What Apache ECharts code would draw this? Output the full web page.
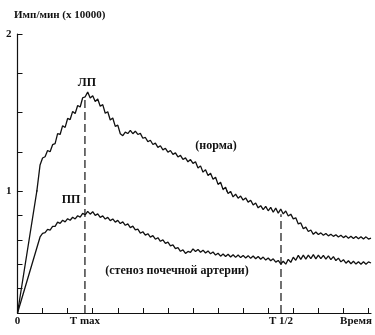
<!DOCTYPE html>
<html>
<head>
<meta charset="utf-8">
<script src="https://cdn.jsdelivr.net/npm/echarts@6/dist/echarts.min.js"></script>
<style>
html, body { margin: 0; padding: 0; background: #fff; }
#chart { width: 375px; height: 335px; }
</style>
</head>
<body>
<div id="chart"></div>
<script>
// Sample times (arbitrary time units along the x axis)
const times = [
  0, 0.9,
  1.0, 1.1, 1.2, 1.3, 1.4, 1.5, 1.6, 1.7, 1.8, 1.9,
  2.0, 2.1, 2.2, 2.3, 2.4, 2.5, 2.6, 2.7, 2.8, 2.9,
  3.0, 3.1, 3.2, 3.3, 3.4, 3.5, 3.6, 3.7, 3.8, 3.9,
  4.0, 4.1, 4.2, 4.3, 4.4, 4.5, 4.6, 4.7, 4.8, 4.9,
  5.0, 5.1, 5.2, 5.3, 5.4, 5.5, 5.6, 5.7, 5.8, 5.9,
  6.0, 6.1, 6.2, 6.3, 6.4, 6.5, 6.6, 6.7, 6.8, 6.9,
  7.0, 7.1, 7.2, 7.3, 7.4, 7.5, 7.6, 7.7, 7.8, 7.9,
  8.0, 8.1, 8.2, 8.3, 8.4, 8.5, 8.6, 8.7, 8.8, 8.9,
  9.0, 9.1, 9.2, 9.3, 9.4, 9.5, 9.6, 9.7, 9.8, 9.9,
  10.0, 10.1, 10.2, 10.3, 10.4, 10.5, 10.6, 10.7, 10.8, 10.9,
  11.0, 11.1, 11.2, 11.3, 11.4, 11.5, 11.6, 11.7, 11.8, 11.9,
  12.0, 12.1, 12.2, 12.3, 12.4, 12.5, 12.6, 12.7, 12.8, 12.9,
  13.0, 13.1, 13.2, 13.3, 13.4, 13.5, 13.6, 13.7, 13.8, 13.9,
  14.0, 14.1
];

// Count rate, imp/min x 10000 — normal kidney
const norma = [
  0, 1.166,
  1.21, 1.218, 1.258, 1.25, 1.295, 1.302, 1.366, 1.36, 1.416, 1.405,
  1.462, 1.455, 1.507, 1.494, 1.545, 1.535, 1.594, 1.6, 1.63, 1.592,
  1.607, 1.57, 1.586, 1.54, 1.55, 1.495, 1.505, 1.452, 1.465, 1.412,
  1.42, 1.365, 1.352, 1.375, 1.366, 1.386, 1.365, 1.381, 1.36, 1.367,
  1.336, 1.341, 1.314, 1.323, 1.296, 1.305, 1.278, 1.288, 1.262, 1.272,
  1.247, 1.258, 1.233, 1.243, 1.217, 1.227, 1.201, 1.211, 1.186, 1.2,
  1.176, 1.186, 1.146, 1.16, 1.12, 1.136, 1.098, 1.113, 1.075, 1.088,
  1.042, 1.056, 1.01, 1.024, 0.98, 0.996, 0.952, 0.974, 0.941, 0.958,
  0.926, 0.943, 0.909, 0.924, 0.886, 0.902, 0.862, 0.88, 0.848, 0.874,
  0.838, 0.866, 0.826, 0.86, 0.818, 0.852, 0.812, 0.836, 0.795, 0.81,
  0.772, 0.78, 0.73, 0.738, 0.69, 0.704, 0.668, 0.68, 0.645, 0.664,
  0.643, 0.657, 0.637, 0.652, 0.632, 0.646, 0.628, 0.642, 0.623, 0.637,
  0.618, 0.632, 0.613, 0.629, 0.611, 0.627, 0.609, 0.625, 0.607, 0.624,
  0.606, 0.614
];

// Count rate — renal artery stenosis
const stenosis = [
  0, 0.623,
  0.652, 0.658, 0.685, 0.68, 0.71, 0.71, 0.745, 0.735, 0.76, 0.747,
  0.773, 0.76, 0.785, 0.771, 0.797, 0.786, 0.816, 0.805, 0.833, 0.81,
  0.83, 0.8, 0.812, 0.784, 0.796, 0.77, 0.784, 0.757, 0.771, 0.745,
  0.759, 0.733, 0.747, 0.719, 0.73, 0.7, 0.712, 0.681, 0.687, 0.654,
  0.666, 0.638, 0.65, 0.622, 0.634, 0.605, 0.617, 0.588, 0.599, 0.571,
  0.581, 0.55, 0.558, 0.527, 0.536, 0.506, 0.517, 0.488, 0.505, 0.497,
  0.526, 0.504, 0.521, 0.498, 0.515, 0.492, 0.509, 0.485, 0.5, 0.475,
  0.49, 0.466, 0.484, 0.463, 0.481, 0.459, 0.478, 0.456, 0.475, 0.454,
  0.472, 0.451, 0.47, 0.448, 0.467, 0.445, 0.463, 0.441, 0.458, 0.434,
  0.451, 0.428, 0.444, 0.417, 0.431, 0.402, 0.424, 0.4, 0.44, 0.415,
  0.457, 0.432, 0.472, 0.44, 0.474, 0.442, 0.475, 0.446, 0.478, 0.444,
  0.474, 0.446, 0.472, 0.442, 0.468, 0.438, 0.462, 0.43, 0.45, 0.419,
  0.437, 0.408, 0.428, 0.404, 0.424, 0.401, 0.42, 0.4, 0.42, 0.4,
  0.419, 0.41
];

// Marker times (T max, T 1/2) and the curve level where each dashed guide ends
const markTimes = [2.69, 10.51];
const markTops = [1.6, 0.81];

// X axis labels and where they sit
const xLabelValues = [0, 2.69, 10.51, 13.5];
const xLabelTexts = ['0', 'T max', 'T 1/2', 'Время'];
const xTickValues = [1, 2, 3, 4, 5, 6, 7, 8, 9, 10, 11, 12, 13, 14];

const FONT = '"Liberation Serif", "DejaVu Serif", serif';
const INK = '#111';

const normaPts = times.map((t, i) => [t, norma[i]]);
const stenosisPts = times.map((t, i) => [t, stenosis[i]]);
const guide = i => [[markTimes[i], 0], [markTimes[i], markTops[i]]];

const curveStyle = { color: INK, width: 1.3 };
const dashStyle = { color: INK, width: 1.2, type: [8, 4] };

function lineSeries(data, gi, style) {
  return {
    type: 'line', xAxisIndex: gi, yAxisIndex: gi, data: data,
    showSymbol: false, symbol: 'none', clip: true, silent: true,
    lineStyle: style
  };
}

const chart = echarts.init(document.getElementById('chart'), null, { renderer: 'canvas' });
chart.setOption({
  animation: false,
  backgroundColor: '#fff',
  title: {
    text: 'Имп/мин (х 10000)',
    left: 9, top: 5,
    textStyle: { fontFamily: FONT, fontSize: 11, fontWeight: 'bold', color: INK }
  },
  // upper band: values 1..2, lower band: values 0..1
  grid: [
    { left: 17.5, right: 4, top: 34, height: 157 },
    { left: 17.5, right: 4, top: 191, height: 122 }
  ],
  xAxis: [
    { gridIndex: 0, type: 'value', min: 0, max: 14.1, show: false },
    {
      gridIndex: 1, type: 'value', min: 0, max: 14.1,
      splitLine: { show: false },
      axisLine: { lineStyle: { color: INK, width: 1.2 } },
      axisTick: { inside: true, length: 5, customValues: xTickValues, lineStyle: { color: INK, width: 1 } },
      axisLabel: {
        customValues: xLabelValues,
        formatter: v => xLabelTexts[xLabelValues.indexOf(v)],
        margin: 3, hideOverlap: false,
        fontFamily: FONT, fontSize: 11, fontWeight: 'bold', color: INK
      }
    }
  ],
  yAxis: [
    {
      gridIndex: 0, type: 'value', min: 1, max: 2, interval: 0.25,
      splitLine: { show: false },
      axisLine: { show: true, lineStyle: { color: INK, width: 1.2 } },
      axisTick: { show: true, inside: true, length: 5, lineStyle: { color: INK, width: 1 } },
      axisLabel: {
        customValues: [2], formatter: '{value}', margin: 6,
        fontFamily: FONT, fontSize: 11, fontWeight: 'bold', color: INK
      }
    },
    {
      gridIndex: 1, type: 'value', min: 0, max: 1, interval: 0.2,
      splitLine: { show: false },
      axisLine: { show: true, lineStyle: { color: INK, width: 1.2 } },
      axisTick: { show: true, inside: true, length: 5, lineStyle: { color: INK, width: 1 } },
      axisLabel: {
        customValues: [1], formatter: '{value}', margin: 6,
        fontFamily: FONT, fontSize: 11, fontWeight: 'bold', color: INK
      }
    }
  ],
  series: [
    lineSeries(normaPts, 0, curveStyle),
    lineSeries(normaPts, 1, curveStyle),
    lineSeries(stenosisPts, 1, curveStyle),
    lineSeries(guide(0), 0, dashStyle),
    lineSeries(guide(0), 1, dashStyle),
    lineSeries(guide(1), 1, dashStyle)
  ],
  graphic: [
    { type: 'text', x: 87, y: 83, style: { text: 'ЛП', fill: INK, font: 'bold 12px ' + FONT, textAlign: 'center', textVerticalAlign: 'middle' } },
    { type: 'text', x: 71, y: 200, style: { text: 'ПП', fill: INK, font: 'bold 12px ' + FONT, textAlign: 'center', textVerticalAlign: 'middle' } },
    { type: 'text', x: 216, y: 146, style: { text: '(норма)', fill: INK, font: 'bold 12px ' + FONT, textAlign: 'center', textVerticalAlign: 'middle' } },
    { type: 'text', x: 177, y: 271, style: { text: '(стеноз почечной артерии)', fill: INK, font: 'bold 12px ' + FONT, textAlign: 'center', textVerticalAlign: 'middle' } }
  ]
});
</script>
</body>
</html>
